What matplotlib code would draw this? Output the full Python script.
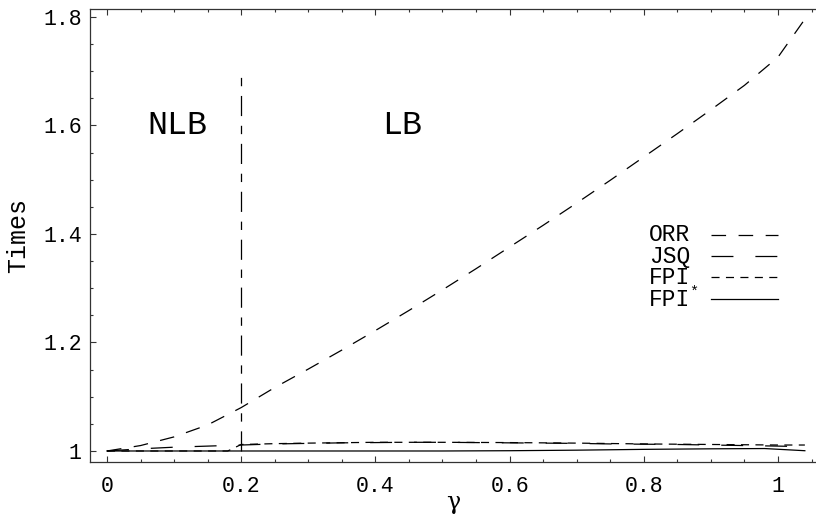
import matplotlib
matplotlib.use('Agg')
import matplotlib.pyplot as plt
from matplotlib.lines import Line2D

plt.rcParams['lines.scale_dashes'] = False
plt.rcParams['font.family'] = ['Liberation Mono', 'DejaVu Sans Mono']

# ---- data ----
gamma_orr = [0, 0.05, 0.1, 0.15, 0.2, 0.25, 0.3, 0.35, 0.4, 0.45, 0.5, 0.55,
             0.6, 0.65, 0.7, 0.75, 0.8, 0.85, 0.9, 0.95, 1.0, 1.04]
orr = [1.000, 1.010, 1.026, 1.048, 1.080, 1.117, 1.151, 1.186, 1.222, 1.259,
       1.297, 1.336, 1.376, 1.416, 1.457, 1.499, 1.542, 1.585, 1.629, 1.674,
       1.726, 1.796]

gamma_jsq = [0, 0.05, 0.1, 0.15, 0.2, 0.25, 0.3, 0.35, 0.4, 0.45, 0.5, 0.55,
             0.6, 0.65, 0.7, 0.75, 0.8, 0.85, 0.9, 0.95, 1.0, 1.04]
jsq = [1.000, 1.004, 1.007, 1.009, 1.011, 1.013, 1.014, 1.015, 1.0155, 1.016,
       1.016, 1.0155, 1.015, 1.0145, 1.014, 1.013, 1.0125, 1.012, 1.011, 1.010,
       1.009, 1.008]

gamma_fpi = [0, 0.18, 0.2, 0.25, 0.3, 0.4, 0.5, 0.6, 0.7, 0.8, 0.9, 1.0, 1.04]
fpi = [1.000, 1.000, 1.012, 1.0135, 1.0145, 1.016, 1.016, 1.0155, 1.0145,
       1.013, 1.012, 1.011, 1.011]

gamma_fpis = [0, 0.5, 0.6, 0.7, 0.8, 0.9, 0.98, 1.04]
fpis = [1.000, 1.000, 1.0005, 1.0015, 1.003, 1.004, 1.0045, 1.0005]

boundary_gamma = [0.2, 0.2]
boundary_span = [1.0, 1.7]

xticks = [0, 0.2, 0.4, 0.6, 0.8, 1]
xticklabels = ['0', '0.2', '0.4', '0.6', '0.8', '1']
yticks = [1, 1.2, 1.4, 1.6, 1.8]
yticklabels = ['1', '1.2', '1.4', '1.6', '1.8']

region_labels = ['NLB', 'LB']
region_pos = [(0.105, 1.60), (0.44, 1.60)]

legend_names = ['ORR', 'JSQ', 'FPI', 'FPI']

# ---- figure ----
W, H = 816, 516
fig = plt.figure(figsize=(W / 100, H / 100), dpi=100)
ax = fig.add_axes([90 / W, (H - 462) / H, (W - 90) / W, (462 - 9) / H])

lw = 0.9
sty_orr = dict(color='black', lw=lw, dashes=(10.5, 9.0))
sty_jsq = dict(color='black', lw=lw, dashes=(15.8, 15.8))
sty_fpi = dict(color='black', lw=lw, dashes=(5.8, 4.6))
sty_fpis = dict(color='black', lw=lw, linestyle='-')

ax.plot(gamma_orr, orr, **sty_orr)
ax.plot(gamma_jsq, jsq, **sty_jsq)
ax.plot(gamma_fpi, fpi, **sty_fpi)
ax.plot(gamma_fpis, fpis, **sty_fpis)
ax.plot(boundary_gamma, boundary_span, color='black', lw=lw,
        dashes=(14.5, 7.0, 6.0, 7.0))

for lab, (gx, gy) in zip(region_labels, region_pos):
    ax.text(gx, gy, lab, fontsize=24, ha='center', va='center')

ax.set_xlim(-0.0253, 1.0566)
ax.set_ylim(0.9797, 1.8147)

ax.set_xticks(xticks)
ax.set_xticklabels(xticklabels)
ax.set_yticks(yticks)
ax.set_yticklabels(yticklabels)
ax.set_xticks([i * 0.05 for i in range(22) if i % 4 != 0], minor=True)
ax.set_yticks([1 + i * 0.05 for i in range(17) if i % 4 != 0], minor=True)

ax.tick_params(which='both', direction='in', top=True, right=False,
               color='#333333', width=0.8)
ax.tick_params(which='major', length=4.5)
ax.tick_params(which='minor', length=2.5)
ax.tick_params(axis='x', which='major', labelsize=15.5, pad=10)
ax.tick_params(axis='y', which='major', labelsize=15.5, pad=6)

for s in ['left', 'bottom', 'top']:
    ax.spines[s].set_color('#333333')
    ax.spines[s].set_linewidth(0.9)
ax.spines['right'].set_visible(False)

ax.set_xlabel('γ', fontsize=17, labelpad=-4, family=['DejaVu Serif'])
ax.set_ylabel('Times', fontsize=18, labelpad=9)

# ---- legend (manual, figure pixel layout) ----
rows_py = [235, 256, 277, 299]
styles = [sty_orr, sty_jsq, sty_fpi, sty_fpis]
for name, py, st in zip(legend_names, rows_py, styles):
    fig.text(649 / W, 1 - py / H, name, fontsize=16.5, ha='left', va='center')
    ln = Line2D([711 / W, 778 / W], [1 - py / H, 1 - py / H],
                transform=fig.transFigure, **st)
    fig.add_artist(ln)
fig.text(689 / W, 1 - (rows_py[3] - 7) / H, '*', fontsize=11, ha='left',
         va='center')

fig.savefig('out.png', dpi=100)
